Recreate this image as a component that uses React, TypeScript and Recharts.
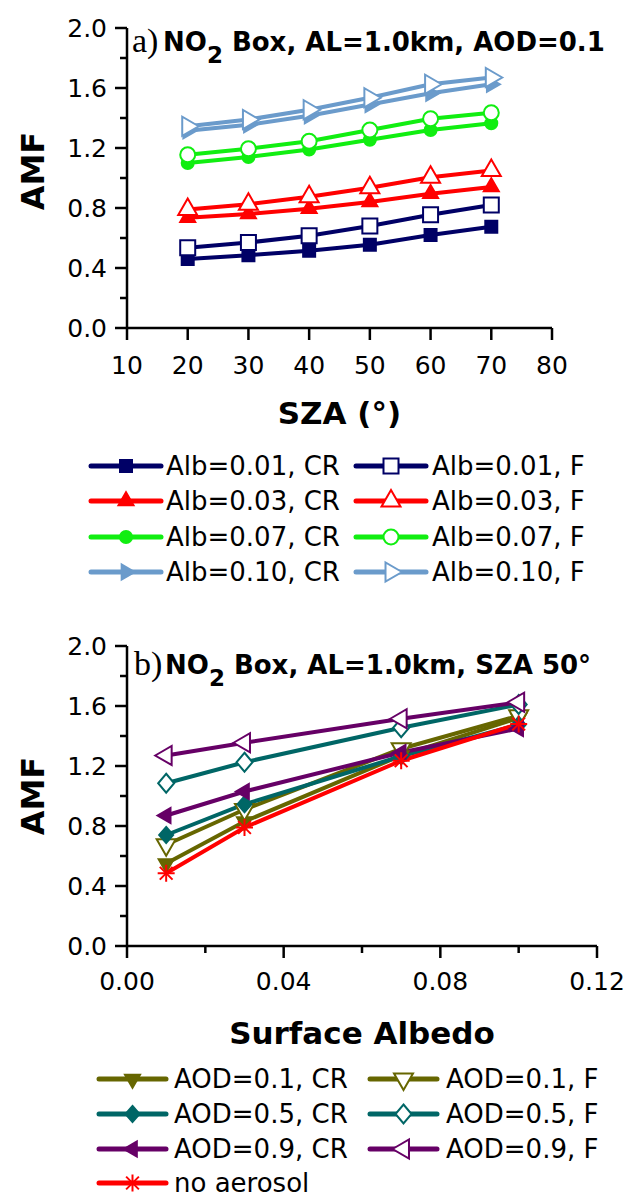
import React from 'react';
import { LineChart, Line, XAxis, YAxis } from 'recharts';

// ---- Panel (a): AMF versus solar zenith angle ----
const szaAngles = [20, 30, 40, 50, 60, 70];
const amfAlb001CR = [0.46, 0.485, 0.515, 0.555, 0.62, 0.675];
const amfAlb001F = [0.535, 0.57, 0.615, 0.68, 0.755, 0.82];
const amfAlb003CR = [0.735, 0.76, 0.795, 0.84, 0.895, 0.94];
const amfAlb003F = [0.79, 0.825, 0.875, 0.935, 1.005, 1.05];
const amfAlb007CR = [1.1, 1.14, 1.19, 1.255, 1.32, 1.365];
const amfAlb007F = [1.155, 1.195, 1.245, 1.32, 1.395, 1.435];
const amfAlb010CR = [1.315, 1.355, 1.415, 1.49, 1.565, 1.625];
const amfAlb010F = [1.345, 1.39, 1.455, 1.535, 1.625, 1.67];
const szaTicks = [10, 20, 30, 40, 50, 60, 70, 80];

// ---- Panel (b): AMF versus surface albedo ----
const surfaceAlbedos = [0.01, 0.03, 0.07, 0.1];
const amfAod01CR = [0.55, 0.83, 1.27, 1.52];
const amfAod01F = [0.675, 0.91, 1.315, 1.535];
const amfAod05CR = [0.74, 0.945, 1.265, 1.475];
const amfAod05F = [1.085, 1.225, 1.455, 1.61];
const amfAod09CR = [0.87, 1.03, 1.29, 1.45];
const amfAod09F = [1.27, 1.355, 1.515, 1.625];
const amfNoAerosol = [0.485, 0.79, 1.235, 1.48];
const albedoTicks = [0, 0.02, 0.04, 0.06, 0.08, 0.1, 0.12];

const amfTicks = [0, 0.2, 0.4, 0.6, 0.8, 1.0, 1.2, 1.4, 1.6, 1.8, 2.0];

type Shape = 'square' | 'triUp' | 'circle' | 'triRight' | 'triDown' | 'diamond' | 'triLeft' | 'star';
interface SeriesDef {
  key: string;
  name: string;
  values: number[];
  color: string;
  shape: Shape;
  filled: boolean;
}

const NAVY = '#000066';
const RED = '#ff0000';
const GREEN = '#11ee11';
const SKY = '#6b9bcb';
const OLIVE = '#666600';
const TEAL = '#006666';
const PURPLE = '#660066';

const seriesA: SeriesDef[] = [
  { key: 'a001cr', name: 'Alb=0.01, CR', values: amfAlb001CR, color: NAVY, shape: 'square', filled: true },
  { key: 'a001f', name: 'Alb=0.01, F', values: amfAlb001F, color: NAVY, shape: 'square', filled: false },
  { key: 'a003cr', name: 'Alb=0.03, CR', values: amfAlb003CR, color: RED, shape: 'triUp', filled: true },
  { key: 'a003f', name: 'Alb=0.03, F', values: amfAlb003F, color: RED, shape: 'triUp', filled: false },
  { key: 'a007cr', name: 'Alb=0.07, CR', values: amfAlb007CR, color: GREEN, shape: 'circle', filled: true },
  { key: 'a007f', name: 'Alb=0.07, F', values: amfAlb007F, color: GREEN, shape: 'circle', filled: false },
  { key: 'a010cr', name: 'Alb=0.10, CR', values: amfAlb010CR, color: SKY, shape: 'triRight', filled: true },
  { key: 'a010f', name: 'Alb=0.10, F', values: amfAlb010F, color: SKY, shape: 'triRight', filled: false },
];

const seriesB: SeriesDef[] = [
  { key: 'o01cr', name: 'AOD=0.1, CR', values: amfAod01CR, color: OLIVE, shape: 'triDown', filled: true },
  { key: 'o01f', name: 'AOD=0.1, F', values: amfAod01F, color: OLIVE, shape: 'triDown', filled: false },
  { key: 'o05cr', name: 'AOD=0.5, CR', values: amfAod05CR, color: TEAL, shape: 'diamond', filled: true },
  { key: 'o05f', name: 'AOD=0.5, F', values: amfAod05F, color: TEAL, shape: 'diamond', filled: false },
  { key: 'o09cr', name: 'AOD=0.9, CR', values: amfAod09CR, color: PURPLE, shape: 'triLeft', filled: true },
  { key: 'o09f', name: 'AOD=0.9, F', values: amfAod09F, color: PURPLE, shape: 'triLeft', filled: false },
  { key: 'none', name: 'no aerosol', values: amfNoAerosol, color: RED, shape: 'star', filled: true },
];

const dataA = szaAngles.map((sza, i) => {
  const row: Record<string, number> = { sza };
  seriesA.forEach((s) => (row[s.key] = s.values[i]));
  return row;
});

const dataB = surfaceAlbedos.map((alb, i) => {
  const row: Record<string, number> = { alb };
  seriesB.forEach((s) => (row[s.key] = s.values[i]));
  return row;
});

const SANS = 'DejaVu Sans, Verdana, sans-serif';
const SERIF = 'Liberation Serif, Times New Roman, serif';

function Marker({ shape, cx, cy, color, filled }: { shape: Shape; cx: number; cy: number; color: string; filled: boolean }) {
  const fill = filled ? color : '#ffffff';
  const sw = 2;
  const size = filled ? 12 : 15;
  const s = size / 2;
  const tri = (dir: 'up' | 'down' | 'left' | 'right') => {
    const a = filled ? 15 : 19;
    const h = a * 0.866;
    const far = (2 * h) / 3;
    const near = h / 3;
    let pts: number[][];
    if (dir === 'up') pts = [[cx, cy - far], [cx - a / 2, cy + near], [cx + a / 2, cy + near]];
    else if (dir === 'down') pts = [[cx, cy + far], [cx - a / 2, cy - near], [cx + a / 2, cy - near]];
    else if (dir === 'left') pts = [[cx - far, cy], [cx + near, cy - a / 2], [cx + near, cy + a / 2]];
    else pts = [[cx + far, cy], [cx - near, cy - a / 2], [cx - near, cy + a / 2]];
    return <polygon points={pts.map((p) => p.join(',')).join(' ')} fill={fill} stroke={color} strokeWidth={sw} strokeLinejoin="miter" />;
  };
  switch (shape) {
    case 'square':
      return <rect x={cx - s} y={cy - s} width={size} height={size} fill={fill} stroke={color} strokeWidth={sw} />;
    case 'circle': {
      const r = filled ? 6 : 7.5;
      return <circle cx={cx} cy={cy} r={r} fill={fill} stroke={color} strokeWidth={sw} />;
    }
    case 'triUp':
      return tri('up');
    case 'triDown':
      return tri('down');
    case 'triLeft':
      return tri('left');
    case 'triRight':
      return tri('right');
    case 'diamond': {
      const w = filled ? 7 : 8;
      const hh = filled ? 8 : 9.5;
      return (
        <polygon
          points={`${cx},${cy - hh} ${cx + w},${cy} ${cx},${cy + hh} ${cx - w},${cy}`}
          fill={fill}
          stroke={color}
          strokeWidth={sw}
        />
      );
    }
    case 'star': {
      const r = 8.5;
      const d = r * 0.75;
      return (
        <g stroke={color} strokeWidth={2}>
          <line x1={cx} y1={cy - r} x2={cx} y2={cy + r} />
          <line x1={cx - r} y1={cy} x2={cx + r} y2={cy} />
          <line x1={cx - d} y1={cy - d} x2={cx + d} y2={cy + d} />
          <line x1={cx - d} y1={cy + d} x2={cx + d} y2={cy - d} />
        </g>
      );
    }
  }
  return null;
}

const AXIS_W = 2.5;

function AmfTick(props: any) {
  const { x, y, payload } = props;
  const v: number = payload.value;
  const major = Math.round(v * 10) % 4 === 0;
  return (
    <g>
      <line x1={x - (major ? 12 : 7)} x2={x} y1={y} y2={y} stroke="#000" strokeWidth={AXIS_W} />
      {major && (
        <text x={x - 20} y={y} dy="0.36em" textAnchor="end" fontFamily={SANS} fontSize={25} fill="#000">
          {v.toFixed(1)}
        </text>
      )}
    </g>
  );
}

function SzaTick(props: any) {
  const { x, y, payload } = props;
  return (
    <g>
      <line x1={x} x2={x} y1={y} y2={y + 12} stroke="#000" strokeWidth={AXIS_W} />
      <text x={x} y={y + 37} dy="0.36em" textAnchor="middle" fontFamily={SANS} fontSize={25} fill="#000">
        {payload.value}
      </text>
    </g>
  );
}

function AlbedoTick(props: any) {
  const { x, y, payload } = props;
  const v: number = payload.value;
  const major = Math.round(v * 100) % 4 === 0;
  return (
    <g>
      <line x1={x} x2={x} y1={y} y2={y + (major ? 12 : 7)} stroke="#000" strokeWidth={AXIS_W} />
      {major && (
        <text x={x} y={y + 35} dy="0.36em" textAnchor="middle" fontFamily={SANS} fontSize={25} fill="#000">
          {v.toFixed(2)}
        </text>
      )}
    </g>
  );
}

const amfLabel = (shift: number) => (p: any) => {
  const vb = p.viewBox || { x: 0, y: 0, width: 127, height: 300 };
  const cx = vb.x + 32;
  const cy = vb.y + vb.height / 2 + shift;
  return (
    <text
      x={cx}
      y={cy}
      dy="0.36em"
      textAnchor="middle"
      transform={`rotate(-90 ${cx} ${cy})`}
      fontFamily={SANS}
      fontWeight="bold"
      fontSize={32}
      fill="#000"
    >
      AMF
    </text>
  );
};

const xTitle = (title: string, dyOff: number) => (p: any) => {
  const vb = p.viewBox || { x: 127, y: 328, width: 425, height: 100 };
  return (
    <text
      x={vb.x + vb.width / 2}
      y={vb.y + dyOff}
      dy="0.36em"
      textAnchor="middle"
      fontFamily={SANS}
      fontWeight="bold"
      fontSize={31}
      fill="#000"
    >
      {title}
    </text>
  );
};

function renderSeries(list: SeriesDef[]) {
  return list.map((s) => (
    <Line
      key={s.key}
      dataKey={s.key}
      name={s.name}
      stroke={s.color}
      strokeWidth={4}
      isAnimationActive={false}
      dot={(d: any) => (
        <Marker key={`${s.key}-${d.index}`} shape={s.shape} cx={d.cx} cy={d.cy} color={s.color} filled={s.filled} />
      )}
      activeDot={false}
    />
  ));
}

function LegendBlock({ items, lineX, lineLen, textX, rowY }: { items: SeriesDef[]; lineX: number[]; lineLen: number; textX: number[]; rowY: number[] }) {
  return (
    <g>
      {items.map((s, i) => {
        const col = i % 2;
        const row = Math.floor(i / 2);
        const y = rowY[row];
        const x0 = lineX[col];
        return (
          <g key={s.key}>
            <line x1={x0} x2={x0 + lineLen} y1={y} y2={y} stroke={s.color} strokeWidth={5} strokeLinecap="round" />
            <Marker shape={s.shape} cx={x0 + lineLen / 2} cy={y} color={s.color} filled={s.filled} />
            <text x={textX[col]} y={y} dy="0.36em" fontFamily={SANS} fontSize={26} fill="#000">
              {s.name}
            </text>
          </g>
        );
      })}
    </g>
  );
}

function PanelTitle({ x, baseline, tag, rest }: { x: number; baseline: number; tag: string; rest: string }) {
  return (
    <g>
      <text x={x} y={baseline} fontFamily={SERIF} fontSize={34} fill="#000">
        {tag}
      </text>
      <text x={x + 31} y={baseline - 1} fontFamily={SANS} fontWeight="bold" fontSize={26} fill="#000">
        NO
        <tspan dy={12} fontSize={23}>
          2
        </tspan>
        <tspan dy={-12}>{rest}</tspan>
      </text>
    </g>
  );
}

export default function App() {
  return (
    <div style={{ position: 'absolute', left: 0, top: 0, width: 631, height: 1200, background: '#fff', overflow: 'hidden' }}>
      <div style={{ position: 'absolute', left: 0, top: 0 }}>
        <LineChart width={631} height={440} data={dataA} margin={{ top: 28, right: 79, bottom: 12, left: 0 }}>
          <XAxis
            dataKey="sza"
            type="number"
            domain={[10, 80]}
            ticks={szaTicks}
            interval={0}
            height={100}
            tickSize={0}
            tickMargin={0}
            tick={<SzaTick />}
            axisLine={{ stroke: '#000', strokeWidth: AXIS_W }}
            label={xTitle('SZA (°)', 85)}
          />
          <YAxis
            type="number"
            domain={[0, 2]}
            ticks={amfTicks}
            interval={0}
            width={127}
            tickSize={0}
            tickMargin={0}
            tick={<AmfTick />}
            axisLine={{ stroke: '#000', strokeWidth: AXIS_W }}
            label={amfLabel(-7)}
          />
          {renderSeries(seriesA)}
        </LineChart>
      </div>
      <div style={{ position: 'absolute', left: 0, top: 610 }}>
        <LineChart width={631} height={440} data={dataB} margin={{ top: 36, right: 34, bottom: 4, left: 0 }}>
          <XAxis
            dataKey="alb"
            type="number"
            domain={[0, 0.12]}
            ticks={albedoTicks}
            interval={0}
            height={100}
            tickSize={0}
            tickMargin={0}
            tick={<AlbedoTick />}
            axisLine={{ stroke: '#000', strokeWidth: AXIS_W }}
            label={xTitle('Surface Albedo', 87)}
          />
          <YAxis
            type="number"
            domain={[0, 2]}
            ticks={amfTicks}
            interval={0}
            width={127}
            tickSize={0}
            tickMargin={0}
            tick={<AmfTick />}
            axisLine={{ stroke: '#000', strokeWidth: AXIS_W }}
            label={amfLabel(0)}
          />
          {renderSeries(seriesB)}
        </LineChart>
      </div>
      <svg width={631} height={1200} style={{ position: 'absolute', left: 0, top: 0, pointerEvents: 'none' }}>
        <PanelTitle x={132} baseline={52} tag="a)" rest=" Box, AL=1.0km, AOD=0.1" />
        <PanelTitle x={134} baseline={675} tag="b)" rest=" Box, AL=1.0km, SZA 50°" />
        <LegendBlock items={seriesA} lineX={[91, 356]} lineLen={70} textX={[166, 432]} rowY={[466, 501, 537, 572]} />
        <LegendBlock items={seriesB} lineX={[99, 370]} lineLen={67} textX={[174, 446]} rowY={[1079, 1114, 1149, 1183]} />
      </svg>
    </div>
  );
}
